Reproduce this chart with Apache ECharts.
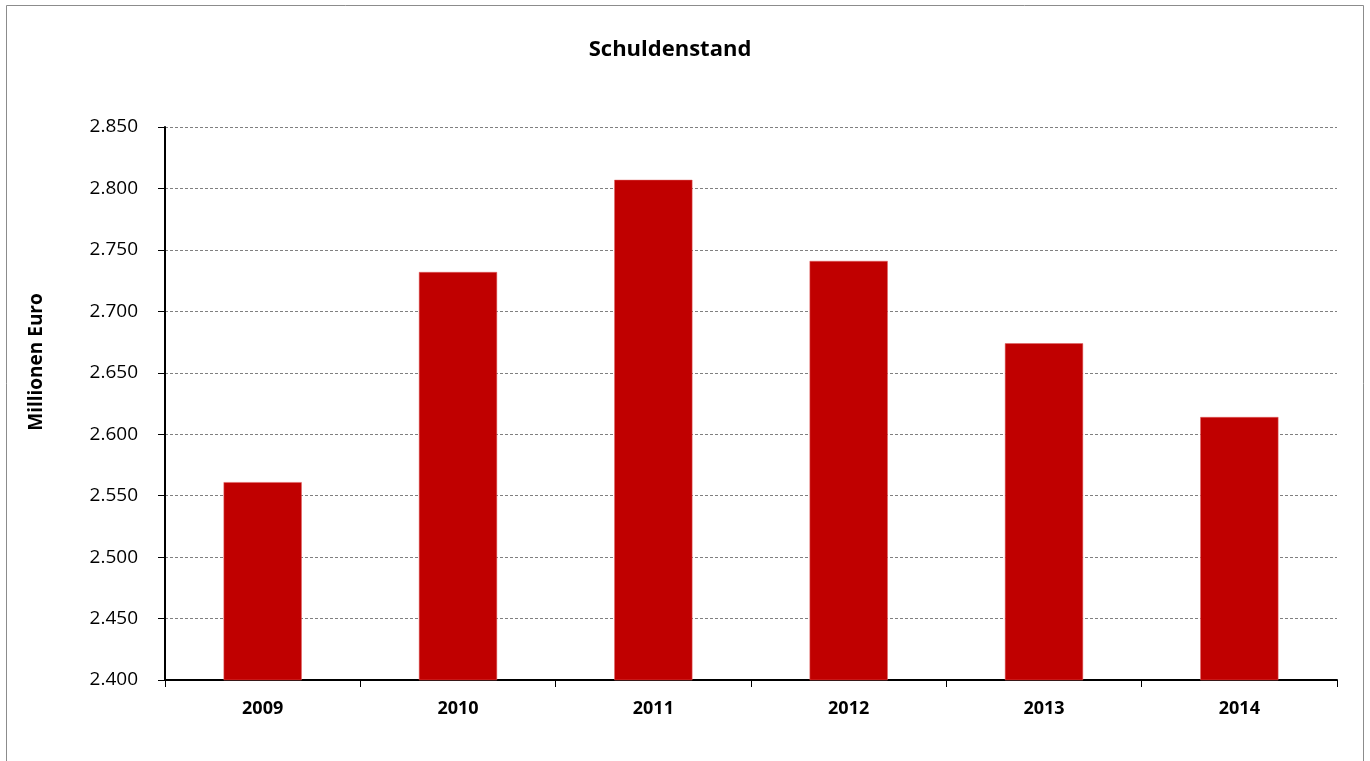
<!DOCTYPE html>
<html>
<head>
<meta charset="utf-8">
<script src="https://cdn.jsdelivr.net/npm/echarts@6/dist/echarts.min.js"></script>
<style>
  html, body { margin: 0; padding: 0; background: #fff; }
  #chart { width: 1370px; height: 761px; }
</style>
</head>
<body>
<div id="chart"></div>
<script>
var years = ["2009", "2010", "2011", "2012", "2013", "2014"];
var schulden = [2561, 2732, 2807, 2741, 2674, 2614];

var fontName = "'Open Sans', 'Liberation Sans', sans-serif";

// Tausenderpunkt wie im Original: 2850 -> 2.850
function fmt(v) {
    var s = String(Math.round(v));
    return s.replace(/\B(?=(\d{3})+(?!\d))/g, ".");
}

var myChart = echarts.init(document.getElementById("chart"));

var option = {
    backgroundColor: "#fff",
    animation: false,
    title: {
        text: "Schuldenstand",
        left: 665,
        textAlign: "center",
        top: 34,
        textStyle: { fontFamily: fontName, fontSize: 22, fontWeight: "bold", color: "#000" }
    },
    graphic: [
        {
            type: "rect",
            shape: { x: 6.5, y: 5.5, width: 1357, height: 770 },
            style: { fill: "none", stroke: "#8c8c8c", lineWidth: 1 },
            silent: true
        },
        {
            type: "text",
            x: 37,
            y: 362,
            rotation: Math.PI / 2,
            style: {
                text: "Millionen Euro",
                fontFamily: fontName,
                fontSize: 19,
                fontWeight: "bold",
                fill: "#000",
                align: "center",
                verticalAlign: "middle"
            }
        }
    ],
    grid: { left: 165, right: 33, top: 127, bottom: 81 },
    xAxis: {
        type: "category",
        data: years,
        axisLine: { lineStyle: { color: "#000", width: 2 } },
        axisTick: { show: true, alignWithLabel: false, length: 7, lineStyle: { color: "#000", width: 1 } },
        axisLabel: { fontFamily: fontName, fontSize: 18, fontWeight: "bold", color: "#000", margin: 20 }
    },
    yAxis: {
        type: "value",
        min: 2400,
        max: 2850,
        interval: 50,
        axisLine: { show: true, lineStyle: { color: "#000", width: 2 } },
        axisTick: { show: true, length: 7, lineStyle: { color: "#000", width: 1 } },
        axisLabel: { fontFamily: fontName, fontSize: 19, color: "#000", margin: 27, formatter: fmt },
        splitLine: { show: true, lineStyle: { color: "#808080", type: [3, 2], width: 1 } }
    },
    series: [
        {
            name: "Schuldenstand",
            type: "bar",
            data: schulden,
            barWidth: "40%",
            itemStyle: { color: "#c00000", borderColor: "#e06060", borderWidth: 0.5 }
        }
    ]
};

myChart.setOption(option);
</script>
</body>
</html>
